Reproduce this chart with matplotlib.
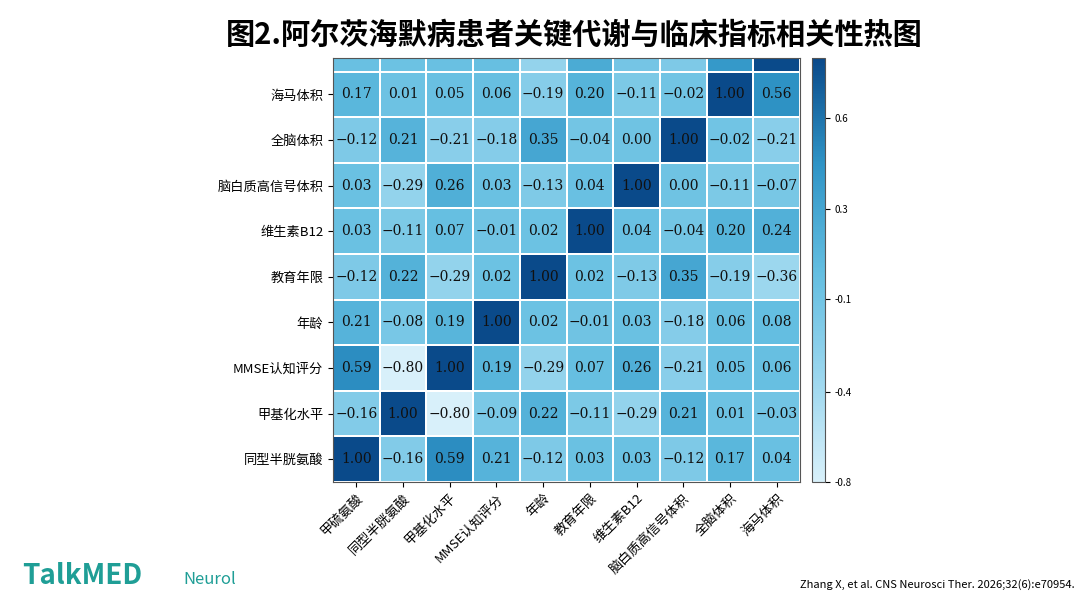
import matplotlib

matplotlib.use("Agg")
import matplotlib.pyplot as plt
import numpy as np
from matplotlib.colors import LinearSegmentedColormap

plt.rcParams["font.family"] = ["Noto Sans CJK SC", "DejaVu Sans"]

row_labels = ["海马体积", "全脑体积", "脑白质高信号体积", "维生素B12", "教育年限",
              "年龄", "MMSE认知评分", "甲基化水平", "同型半胱氨酸"]
col_labels = ["甲硫氨酸", "同型半胱氨酸", "甲基化水平", "MMSE认知评分", "年龄",
              "教育年限", "维生素B12", "脑白质高信号体积", "全脑体积", "海马体积"]
# partially visible row cut off at the top of the figure
hidden_row = [0.05, 0.02, 0.05, 0.06, -0.3, 0.3, -0.05, -0.12, 0.5, 1.00]
values = [
    [0.17, 0.01, 0.05, 0.06, -0.19, 0.20, -0.11, -0.02, 1.00, 0.56],
    [-0.12, 0.21, -0.21, -0.18, 0.35, -0.04, 0.00, 1.00, -0.02, -0.21],
    [0.03, -0.29, 0.26, 0.03, -0.13, 0.04, 1.00, 0.00, -0.11, -0.07],
    [0.03, -0.11, 0.07, -0.01, 0.02, 1.00, 0.04, -0.04, 0.20, 0.24],
    [-0.12, 0.22, -0.29, 0.02, 1.00, 0.02, -0.13, 0.35, -0.19, -0.36],
    [0.21, -0.08, 0.19, 1.00, 0.02, -0.01, 0.03, -0.18, 0.06, 0.08],
    [0.59, -0.80, 1.00, 0.19, -0.29, 0.07, 0.26, -0.21, 0.05, 0.06],
    [-0.16, 1.00, -0.80, -0.09, 0.22, -0.11, -0.29, 0.21, 0.01, -0.03],
    [1.00, -0.16, 0.59, 0.21, -0.12, 0.03, 0.03, -0.12, 0.17, 0.04],
]
cbar_labels = ["-0.8", "-0.4", "-0.1", "0.3", "0.6"]
cbar_fracs = [0.0, 0.213, 0.431, 0.645, 0.858]

cmap = LinearSegmentedColormap.from_list(
    "blu", ["#d8f0fa", "#9ad6ee", "#62bde0", "#2f94c6", "#0a4a8a"])
vmin, vmax = -0.8, 1.0

fig = plt.figure(figsize=(10.8, 5.99), dpi=100)
ax = fig.add_axes([333 / 1080, 1 - 482 / 599, 467 / 1080, 424 / 599])
data = np.array([hidden_row] + values)
mesh = ax.pcolormesh(data, cmap=cmap, vmin=vmin, vmax=vmax,
                     edgecolor="white", linewidth=1.2)
ax.set_ylim(len(data), 0.7)
for i, row in enumerate(values):
    for j, v in enumerate(row):
        ax.text(j + 0.5, i + 1.5, f"{v:.2f}".replace("-", "−"), ha="center", va="center",
                fontsize=10, family="DejaVu Serif", color="#111111")
ax.set_yticks(np.arange(len(values)) + 1.5)
ax.set_yticklabels(row_labels, fontsize=9.5)
ax.set_xticks(np.arange(len(col_labels)) + 0.5)
ax.set_xticklabels(col_labels, fontsize=9.5, rotation=45, ha="right", rotation_mode="anchor")
for s in ax.spines.values():
    s.set_color("#555555")

cax = fig.add_axes([812 / 1080, 1 - 482 / 599, 13 / 1080, 424 / 599])
cb = fig.colorbar(mesh, cax=cax)
cb.set_ticks([vmin + f * (vmax - vmin) for f in cbar_fracs])
cb.set_ticklabels(cbar_labels)
cb.ax.tick_params(labelsize=7)
cb.outline.set_edgecolor("#555555")

fig.text(0.532, 1 - 35 / 599, "图2.阿尔茨海默病患者关键代谢与临床指标相关性热图",
         ha="center", va="center", fontsize=21, fontweight="bold")
fig.text(22 / 1080, 1 - 590 / 599, "TalkMED", fontsize=20, fontweight="bold", color="#1f9e96",
         va="bottom")
fig.text(183 / 1080, 1 - 588 / 599, "Neurol", fontsize=12, style="italic", color="#1f9e96",
         va="bottom")
fig.text(0.995, 0.015, "Zhang X, et al. CNS Neurosci Ther. 2026;32(6):e70954.",
         fontsize=8, ha="right", va="bottom")

fig.savefig("out.png", dpi=100)
